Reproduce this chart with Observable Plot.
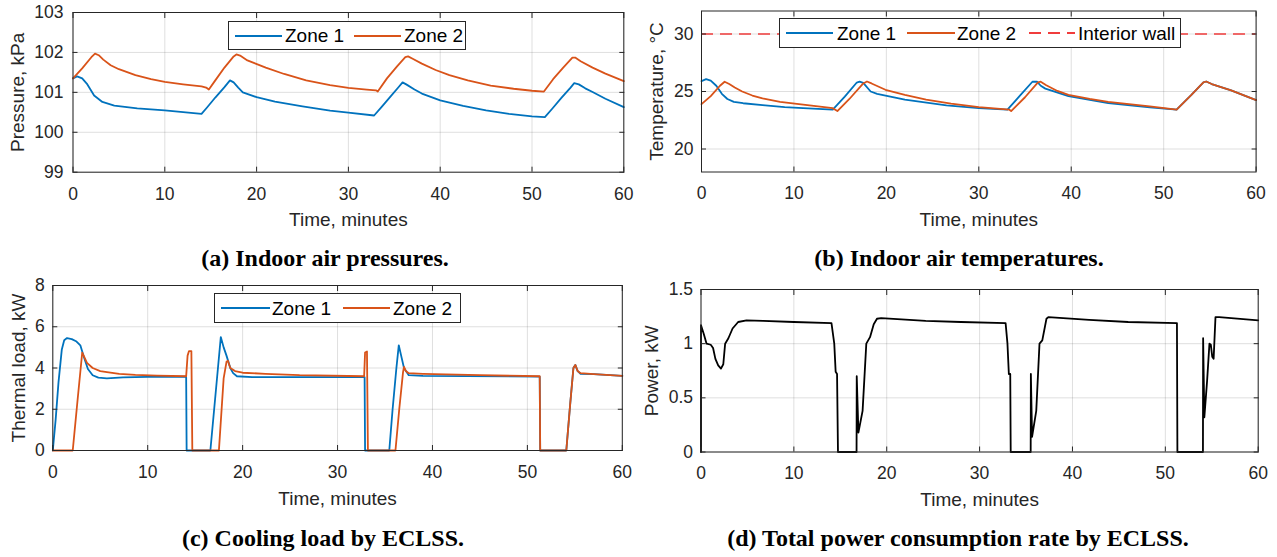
<!DOCTYPE html>
<html><head><meta charset="utf-8">
<script src="https://cdn.jsdelivr.net/npm/d3@7"></script>
<script src="https://cdn.jsdelivr.net/npm/@observablehq/plot@0.6"></script>
<style>
body{margin:0;background:#fff;}
#root{position:relative;width:1277px;height:557px;overflow:hidden;background:#fff;font-family:"Liberation Sans",Arial,sans-serif;}
.panel{position:absolute;}
.cap{position:absolute;font-family:"Liberation Serif","Times New Roman",serif;font-weight:bold;font-size:24px;line-height:24px;text-align:center;white-space:nowrap;color:#000;}
.leg{position:absolute;background:#fff;border:1px solid #262626;box-sizing:border-box;}
.leg span{position:absolute;font-size:19px;line-height:19px;color:#000;white-space:nowrap;}
.leg svg{position:absolute;overflow:visible;}
</style></head><body><div id="root"></div><script>
// ---------- data ----------
const xTicks = [0, 10, 20, 30, 40, 50, 60];
const zoneNames = ["Zone 1", "Zone 2", "Interior wall"];
const wallTemperature = 30;

// (a) Indoor air pressures, kPa
const presTime1 = [0,0.45,1.0,1.5,2.3,3.2,4.5,7,10,14, 14.6,15.5,16.5,17.1,17.5,18.0,18.5,20,22,25,28,30,32.8, 33.6,34.6,35.5,35.9,36.3,37.2,38,40,42.5,45,47.5,50,51.4, 52.2,53.2,54.2,54.6,55.1,55.8,56.6,58,60];
const presZone1 = [101.35,101.4,101.35,101.22,100.92,100.76,100.67,100.6,100.55,100.46, 100.62,100.87,101.13,101.3,101.25,101.12,101.0,100.88,100.77,100.65,100.54,100.49,100.42, 100.63,100.9,101.14,101.25,101.2,101.07,100.97,100.8,100.66,100.55,100.46,100.4,100.38, 100.59,100.86,101.12,101.23,101.2,101.1,101.01,100.84,100.63];
const presTime2 = [0,1,2,2.4,2.8,3.3,4.1,5,6.8,8.5,10,12,14,14.5,14.8, 15.5,16.5,17.5,17.8,18.2,19,21,23,25.4,28,30,32,33,33.2, 34.2,35.3,36.2,36.5,37,38,39.5,41,43,45.5,48,50,51.3, 52.3,53.4,54.4,54.7,55.3,56.6,58,60];
const presZone2 = [101.35,101.6,101.88,101.97,101.93,101.82,101.68,101.58,101.43,101.33,101.26,101.2,101.15,101.12,101.07, 101.3,101.62,101.9,101.95,101.92,101.8,101.62,101.46,101.3,101.18,101.11,101.07,101.05,101.02, 101.35,101.65,101.88,101.9,101.84,101.72,101.56,101.43,101.3,101.17,101.09,101.04,101.02, 101.33,101.62,101.87,101.87,101.78,101.62,101.47,101.28];

// (b) Indoor air temperatures, degC
const tempTime1 = [0,0.5,1.0,1.6,2.2,2.8,3.5,4.5,6.6,9, 11,14.2,15.5,16.8,17.1,17.5,18.3,19,22,26.5, 30,33.1,34.5,35.8,36.3,36.7,37.2,39.7,44,48.5, 51.4,53,54.3,54.6,55.2,57.3,60];
const tempZone1 = [25.9,26.07,25.95,25.5,24.8,24.35,24.1,23.98,23.82,23.65, 23.55,23.42,24.55,25.78,25.85,25.75,25.0,24.8,24.3,23.8, 23.55,23.42,24.68,25.85,25.85,25.5,25.25,24.6,24.0,23.62, 23.42,24.7,25.8,25.87,25.65,25.1,24.25];
const tempTime2 = [0,1,2,2.5,3.0,3.6,4.4,5.5,6.6,8.5, 11,14.2,14.7,16,17.5,17.9,18.4,19.9,22,24.3, 27,30,33.3,33.5,35,36.4,36.7,37.3,38.5,39.7, 42,44,48.5,51.4,53,54.3,54.6,55.2,57.3,60];
const tempZone2 = [23.9,24.6,25.5,25.85,25.65,25.35,25.0,24.65,24.4,24.1, 23.85,23.55,23.3,24.35,25.7,25.87,25.7,25.15,24.7,24.3, 23.95,23.65,23.42,23.3,24.5,25.8,25.85,25.55,25.05,24.7, 24.35,24.1,23.7,23.42,24.7,25.8,25.87,25.65,25.1,24.25];

// (c) Cooling load by ECLSS, kW
const loadTime1 = [0,0.3,0.6,0.95,1.2,1.5,2.0,2.45,2.9,3.3, 3.7,4.2,4.8,5.7,7.4,10,14.05,14.1,16.6,17.0, 17.4,17.7,18.0,18.3,18.7,19.0,19.4,21,32.85,32.9, 35.45,35.8,36.2,36.45,36.7,37.0,37.5,39,51.3,51.35, 54.1,54.5,54.85,55.05,55.3,55.6,57,60];
const loadZone1 = [0,1.5,3.3,4.9,5.35,5.45,5.4,5.3,5.1,4.5, 3.95,3.65,3.53,3.5,3.55,3.57,3.58,0,0,2.0, 4.0,5.5,5.0,4.6,4.0,3.75,3.6,3.56,3.56,0, 0,2.0,4.0,5.1,4.6,4.0,3.65,3.62,3.58,0, 0,2.2,4.0,4.15,3.85,3.72,3.7,3.62];
const loadTime2 = [0,2.1,2.6,3.1,3.3,3.6,4.2,5.0,5.7,7, 8.7,11,14.05,14.2,14.35,14.6,14.7,17.5,18.0,18.3, 18.45,18.7,19.2,20,22.4,26,32.8,32.9,33.1,33.2, 36.1,36.5,36.9,37.0,37.2,37.5,39,45,51.3,51.35, 54.1,54.5,54.85,55.05,55.3,55.6,57,60];
const loadZone2 = [0,0,2.4,4.75,4.55,4.25,4.0,3.85,3.8,3.72, 3.67,3.63,3.6,4.6,4.82,4.82,0,0,3.5,4.3, 4.35,4.0,3.85,3.77,3.72,3.65,3.6,4.75,4.8,0, 0,2.0,3.8,4.05,3.85,3.75,3.72,3.65,3.6,0, 0,2.2,4.0,4.15,3.85,3.75,3.7,3.62];

// (d) Total power consumption rate by ECLSS, kW
const powerTime = [0,0,0.3,0.6,1.05,1.3,1.55,1.85,2.15,2.4, 2.6,2.95,3.4,4.0,4.9,6.7,10,14.05,14.35,14.5, 14.65,14.75,16.75,16.77,16.95,17.4,17.8,18.2,18.6,18.95, 19.4,24.2,28,32.8,33.0,33.15,33.3,33.35,35.5,35.52, 35.65,36.1,36.45,36.75,37.2,37.4,41.8,46,51.25,51.3, 54.05,54.07,54.2,54.5,54.75,54.9,55.05,55.2,55.4,55.8, 60];
const powerTotal = [0,1.17,1.09,1.0,0.99,0.96,0.86,0.8,0.77,0.81, 1.0,1.05,1.14,1.2,1.215,1.21,1.2,1.19,1.0,0.74, 0.72,0,0,0.7,0.18,0.38,1.0,1.06,1.18,1.23, 1.235,1.21,1.2,1.19,1.0,0.72,0.72,0,0,0.72, 0.14,0.38,1.0,1.03,1.23,1.245,1.22,1.2,1.19,0, 0,1.05,0.32,0.66,1.0,0.99,0.88,0.86,1.245,1.245, 1.215];

const captions = ["(a) Indoor air pressures.", "(b) Indoor air temperatures.", "(c) Cooling load by ECLSS.", "(d) Total power consumption rate by ECLSS."];

// ---------- helpers ----------
const BLUE = "#0072BD", ORANGE = "#D95319", RED = "#f03c3c", AX = "#262626";
const FONT = '"Liberation Sans", Arial, sans-serif';
const TICK_FS = 17.5, TITLE_FS = 19;
const zip = (t, v) => t.map((x, i) => ({t: x, v: v[i]}));
const root = document.getElementById("root");

function panel(o) {
  const chart = Plot.plot({
    width: o.width, height: o.height,
    marginTop: o.mt, marginRight: o.mr, marginBottom: o.mb, marginLeft: o.ml,
    style: {fontFamily: FONT, fontSize: TICK_FS + "px", color: AX, background: "transparent", overflow: "visible"},
    x: {domain: [0, 60]},
    y: {domain: o.ydomain},
    marks: [
      Plot.gridX(xTicks, {stroke: AX, strokeOpacity: 0.15}),
      Plot.gridY(o.yticks, {stroke: AX, strokeOpacity: 0.15}),
      ...o.marks,
      Plot.frame({stroke: AX, strokeWidth: 1}),
      Plot.axisX(xTicks, {anchor: "bottom", tickSize: -5, tickPadding: 20, label: null, fontSize: TICK_FS}),
      Plot.axisX(xTicks, {anchor: "top", tickSize: -5, tickFormat: () => "", label: null}),
      Plot.axisY(o.yticks, {anchor: "left", tickSize: -5, tickPadding: o.ypad, tickFormat: o.yfmt, label: null, fontSize: TICK_FS}),
      Plot.axisY(o.yticks, {anchor: "right", tickSize: -5, tickFormat: () => "", label: null}),
      Plot.text(["Time, minutes"], {text: d => d, frameAnchor: "bottom", dy: 48, textAnchor: "middle", lineAnchor: "middle", fill: AX, fontSize: TITLE_FS}),
      Plot.text([o.ytitle], {text: d => d, frameAnchor: "left", dx: o.ytdx, rotate: -90, textAnchor: "middle", lineAnchor: "middle", fill: AX, fontSize: TITLE_FS})
    ]
  });
  const d = document.createElement("div");
  d.className = "panel";
  d.style.left = o.left + "px"; d.style.top = o.top + "px";
  d.appendChild(chart);
  root.appendChild(d);
}

function legend(left, top, w, h, items) {
  const d = document.createElement("div");
  d.className = "leg";
  Object.assign(d.style, {left: left + "px", top: top + "px", width: w + "px", height: h + "px"});
  const ih = h - 2;
  for (const it of items) {
    const s = document.createElementNS("http://www.w3.org/2000/svg", "svg");
    s.setAttribute("width", it.x2 - it.x1); s.setAttribute("height", 4);
    s.style.left = it.x1 + "px"; s.style.top = (ih / 2 - 2) + "px";
    const l = document.createElementNS("http://www.w3.org/2000/svg", "line");
    l.setAttribute("x1", 0); l.setAttribute("x2", it.x2 - it.x1); l.setAttribute("y1", 2); l.setAttribute("y2", 2);
    l.setAttribute("stroke", it.color); l.setAttribute("stroke-width", 1.8);
    if (it.dash) l.setAttribute("stroke-dasharray", it.dash);
    s.appendChild(l); d.appendChild(s);
    const t = document.createElement("span");
    t.textContent = it.label;
    t.style.left = it.tx + "px"; t.style.top = (ih / 2 - 9.5) + "px";
    d.appendChild(t);
  }
  root.appendChild(d);
}

function caption(text, cx, cy) {
  const d = document.createElement("div");
  d.className = "cap";
  d.textContent = text;
  Object.assign(d.style, {left: (cx - 320) + "px", width: "640px", top: (cy - 12.5) + "px"});
  root.appendChild(d);
}

const lineOpts = (c) => ({x: "t", y: "v", stroke: c, strokeWidth: 1.8, strokeLinejoin: "round"});

// (a)
panel({left: 0, top: 0, width: 640, height: 240, mt: 12, mr: 16.7, mb: 68.3, ml: 72.5,
  ydomain: [99, 103], yticks: [99, 100, 101, 102, 103], ypad: 14.5, yfmt: d => String(d),
  ytitle: "Pressure, kPa", ytdx: -55,
  marks: [Plot.line(zip(presTime1, presZone1), lineOpts(BLUE)), Plot.line(zip(presTime2, presZone2), lineOpts(ORANGE))]});

// (b)
panel({left: 640, top: 0, width: 637, height: 240, mt: 10.5, mr: 21.4, mb: 68.5, ml: 61,
  ydomain: [18, 32], yticks: [20, 25, 30], ypad: 13, yfmt: d => String(d),
  ytitle: "Temperature, °C", ytdx: -45,
  marks: [Plot.ruleY([wallTemperature], {stroke: RED, strokeWidth: 1.6, strokeDasharray: "12,7"}),
          Plot.line(zip(tempTime1, tempZone1), lineOpts(BLUE)), Plot.line(zip(tempTime2, tempZone2), lineOpts(ORANGE))]});

// (c)
panel({left: 0, top: 270, width: 640, height: 240, mt: 15, mr: 18.2, mb: 60, ml: 52.3,
  ydomain: [0, 8], yticks: [0, 2, 4, 6, 8], ypad: 13, yfmt: d => String(d),
  ytitle: "Thermal load, kW", ytdx: -34,
  marks: [Plot.line(zip(loadTime1, loadZone1), lineOpts(BLUE)), Plot.line(zip(loadTime2, loadZone2), lineOpts(ORANGE))]});

// (d)
panel({left: 640, top: 270, width: 637, height: 240, mt: 19, mr: 19.3, mb: 58.5, ml: 60.5,
  ydomain: [0, 1.5], yticks: [0, 0.5, 1, 1.5], ypad: 13, yfmt: d => d3.format("~g")(d),
  ytitle: "Power, kW", ytdx: -49,
  marks: [Plot.line(zip(powerTime, powerTotal), lineOpts("#000"))]});

legend(228, 21, 238, 29, [
  {x1: 6, x2: 53, color: BLUE, label: zoneNames[0], tx: 56},
  {x1: 125, x2: 172, color: ORANGE, label: zoneNames[1], tx: 175}]);
legend(779, 18, 402, 30, [
  {x1: 6, x2: 53, color: BLUE, label: zoneNames[0], tx: 57},
  {x1: 127, x2: 175, color: ORANGE, label: zoneNames[1], tx: 177},
  {x1: 249, x2: 295, color: RED, dash: "12,7", label: zoneNames[2], tx: 298}]);
legend(214, 293, 247, 30, [
  {x1: 6, x2: 55, color: BLUE, label: zoneNames[0], tx: 57},
  {x1: 128, x2: 175, color: ORANGE, label: zoneNames[1], tx: 178}]);

caption(captions[0], 325, 258);
caption(captions[1], 959, 258);
caption(captions[2], 323, 538);
caption(captions[3], 958, 538);
</script></body></html>
